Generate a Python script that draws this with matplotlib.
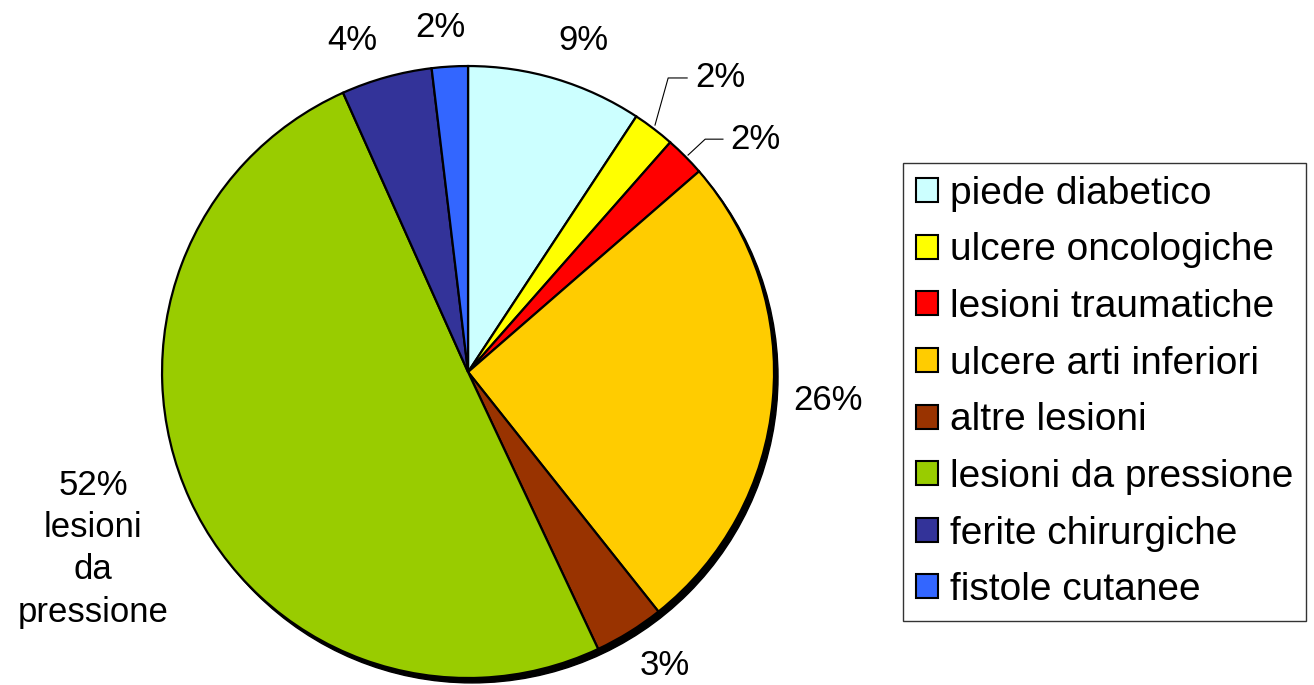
import matplotlib.pyplot as plt
from matplotlib.patches import Circle

plt.rcParams['font.family'] = ['Liberation Sans', 'DejaVu Sans']

categorie = ["piede diabetico", "ulcere oncologiche", "lesioni traumatiche",
             "ulcere arti inferiori", "altre lesioni", "lesioni da pressione",
             "ferite chirurgiche", "fistole cutanee"]
valori = [9.27, 2.22, 2.13, 25.7, 3.7, 50.3, 4.8, 1.9]
etichette = ["9%", "2%", "2%", "26%", "3%", "52%\nlesioni\nda\npressione", "4%", "2%"]
colori = ["#CCFFFF", "#FFFF00", "#FF0000", "#FFCC00", "#993300", "#99CC00", "#333399", "#3366FF"]

fig = plt.figure(figsize=(13.14, 6.85), dpi=100)
ax = fig.add_axes([0.1233, 0.0102, 0.4658, 0.8934])
ax.set_xlim(-1, 1)
ax.set_ylim(-1, 1)
ax.set_aspect('equal')
ax.axis('off')

# ombra
ax.add_patch(Circle((0.013, -0.016), 1.0, color='black', zorder=0, clip_on=False))

wedges, _ = ax.pie(valori, colors=colori, startangle=90, counterclock=False, radius=1.0,
                   wedgeprops=dict(edgecolor='black', linewidth=1.6), frame=False)
for w in wedges:
    w.set_zorder(1)
    w.set_clip_on(False)
ax.set_xlim(-1, 1)
ax.set_ylim(-1, 1)

fs = 25
pos = [(0.376, 1.085, 'center'), (0.742, 0.961, 'left'), (0.856, 0.761, 'left'),
       (1.176, -0.092, 'center'), (0.644, -0.958, 'center'), (-1.225, -0.578, 'center'),
       (-0.379, 1.085, 'center'), (-0.092, 1.127, 'center')]
for lab, (x, y, ha) in zip(etichette, pos):
    ax.text(x, y, lab, ha=ha, va='center', fontsize=fs, linespacing=1.35, clip_on=False)

# linee guida
ax.plot([0.611, 0.654, 0.716], [0.807, 0.961, 0.961], color='black', lw=0.8, clip_on=False)
ax.plot([0.719, 0.775, 0.833], [0.709, 0.761, 0.761], color='black', lw=0.8, clip_on=False)

leg = fig.legend(wedges, categorie, loc='upper left', bbox_to_anchor=(903 / 1314, 1 - 163 / 685),
                 fontsize=28, frameon=True, fancybox=False, borderaxespad=0, borderpad=0.33,
                 handlelength=0.57, handleheight=0.57, handletextpad=0.3, labelspacing=0.53)
leg.get_frame().set_edgecolor('black')
leg.get_frame().set_linewidth(1.0)
for h in leg.legend_handles:
    h.set_linewidth(1.5)

fig.savefig('out.png', dpi=100)
